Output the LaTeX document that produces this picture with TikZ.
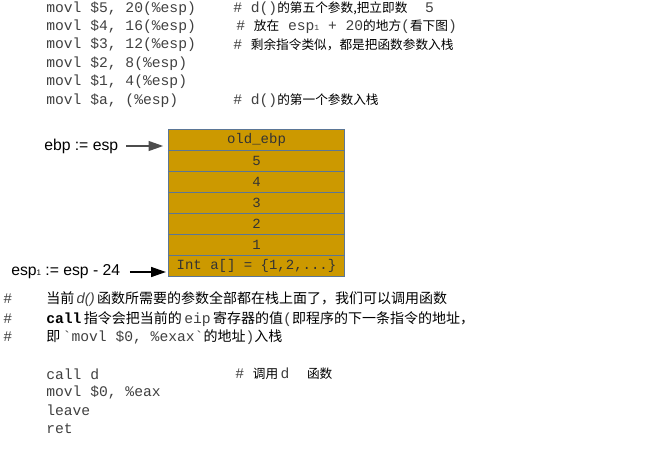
\documentclass[tikz,border=0pt]{standalone}
\usepackage{fontspec}
\setmainfont{Liberation Sans}
\setmonofont{Liberation Mono}
\newfontfamily\cjk{Noto Sans CJK SC}
\usetikzlibrary{arrows.meta}
\definecolor{gold}{HTML}{CC9900}
\definecolor{edge}{HTML}{5B7696}
\definecolor{codegray}{HTML}{404040}
\newcommand\zh[1]{{\cjk\fontsize{9.5}{12}\selectfont\color{black}#1}}
\newcommand\zhb[1]{{\cjk\fontsize{10.5}{12}\selectfont\color{black}#1}}
\newcommand\subone{{\fontsize{6}{6}\selectfont 1}}
\begin{document}
\begin{tikzpicture}[x=0.75pt,y=-0.75pt,
  code/.style={anchor=west, inner sep=0pt, font=\fontsize{11}{13}\ttfamily, text=codegray},
  cell/.style={draw=edge, fill=gold, line width=0.6pt, outer sep=0pt, minimum width=132pt, minimum height=15.75pt, inner sep=0pt, font=\fontsize{10.5}{12}\ttfamily, text=black!80, anchor=north},
  lbl/.style={anchor=west, inner sep=0pt, font=\fontsize{11.8}{14}\selectfont},
  ptr/.style={-{Triangle[length=11pt,width=7.5pt]}, line width=0.9pt}
]
\useasboundingbox (0,0) rectangle (648,464);
% top code
\node[code] (l1) at (46,9) {movl \$5, 20(\%esp)};
\node[code] (l2) at (46,27) {movl \$4, 16(\%esp)};
\node[code] (l3) at (46,45) {movl \$3, 12(\%esp)};
\node[code] (l4) at (46,64) {movl \$2, 8(\%esp)};
\node[code] (l5) at (46,82) {movl \$1, 4(\%esp)};
\node[code] (l6) at (46,101) {movl \$a, (\%esp)};
\node[code] (k1) at (233,9) {\# d()\zh{的第五个参数,把立即数}\ \ 5};
\node[code] (k2) at (236,27) {\# \zh{放在} esp\subone{} + 20\zh{的地方}(\zh{看下图})};
\node[code] (k3) at (233,45) {\# \zh{剩余指令类似，都是把函数参数入栈}};
\node[code] (k6) at (233,101) {\# d()\zh{的第一个参数入栈}};
% stack
\node[cell] (c0) at (256.5,129.5) {old\_ebp};
\node[cell] (c1) at (c0.south) {5};
\node[cell] (c2) at (c1.south) {4};
\node[cell] (c3) at (c2.south) {3};
\node[cell] (c4) at (c3.south) {2};
\node[cell] (c5) at (c4.south) {1};
\node[cell] (c6) at (c5.south) {Int a[] = \{1,2,...\}};
% pointers
\node[lbl] (ebp) at (44,146) {ebp := esp};
\node[lbl] (esp) at (11,272) {esp\subone{} := esp - 24};
\draw[ptr, draw=black!70, shorten <=6pt, shorten >=4pt] (ebp.east) -- (ebp.east -| c0.west);
\draw[ptr, shorten <=7pt, shorten >=2pt] (esp.east) -- (esp.east -| c6.west);
% bottom comments
\node[code] (h1) at (3,299) {\#};
\node[code] (h2) at (3,319) {\#};
\node[code] (h3) at (3,337) {\#};
\node[code] (b1) at (46,299) {\zhb{当前}\,{\rmfamily\itshape d()}\,\zhb{函数所需要的参数全部都在栈上面了，我们可以调用函数}};
\node[code] (b2) at (46,319) {{\bfseries\color{black}call}\,\zhb{指令会把当前的}\,eip\,\zhb{寄存器的值}(\zhb{即程序的下一条指令的地址，}};
\node[code] (b3) at (46,337) {\zhb{即}\,`movl \$0, \%exax`\zhb{的地址})\zhb{入栈}};
% bottom code
\node[code] (m1) at (46,374) {call d};
\node[code] (m2) at (46,392) {movl \$0, \%eax};
\node[code] (m3) at (46,410) {leave};
\node[code] (m4) at (46,429) {ret};
\node[code] (n1) at (235,374) {\# \zh{调用}\,d\ \ \zh{函数}};
\end{tikzpicture}
\end{document}
